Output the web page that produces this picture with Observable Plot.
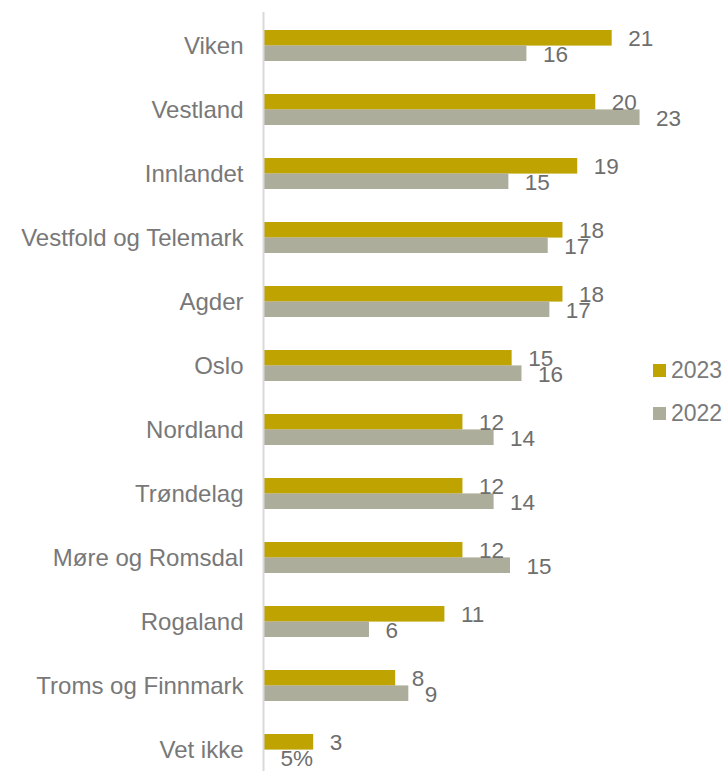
<!DOCTYPE html>
<html>
<head>
<meta charset="utf-8">
<script src="https://cdn.jsdelivr.net/npm/d3@7"></script>
<script src="https://cdn.jsdelivr.net/npm/@observablehq/plot@0.6"></script>
<style>
  body { margin: 0; background: #fff; font-family: "Liberation Sans", Arial, sans-serif; }
  #wrap { position: relative; width: 728px; height: 771px; }
  .legend { position: absolute; left: 653px; font-size: 23px; line-height: 26px; color: #7a7a7a; display: flex; align-items: center; }
  .legend span.sw { display: inline-block; width: 13px; height: 13px; margin-right: 5px; }
</style>
</head>
<body>
<div id="wrap"></div>
<script>
const regions = ["Viken","Vestland","Innlandet","Vestfold og Telemark","Agder","Oslo","Nordland","Trøndelag","Møre og Romsdal","Rogaland","Troms og Finnmark","Vet ikke"];
const values2023 = [21.2, 20.2, 19.1, 18.2, 18.2, 15.1, 12.1, 12.1, 12.1, 11.0, 8.0, 3.0];
const values2022 = [16.0, 22.9, 14.9, 17.3, 17.4, 15.7, 14.0, 14.0, 15.0, 6.4, 8.8, 0];
const labels2023 = ["21","20","19","18","18","15","12","12","12","11","8","3"];
const labels2022 = ["16","23","15","17","17","16","14","14","15","6","9","5%"];
const seriesNames = ["2023","2022"];
const colors = ["#BFA300","#ADAD9C"];

const d2023 = regions.map((r, i) => ({region: r, value: values2023[i], label: labels2023[i]}));
const d2022 = regions.map((r, i) => ({region: r, value: values2022[i], label: labels2022[i]}));

const half = 64.17 * 0.48 / 2;

const chart = Plot.plot({
  width: 728,
  height: 771,
  marginLeft: 264,
  marginRight: 87,
  marginTop: 12,
  marginBottom: 0,
  style: {fontFamily: "'Liberation Sans', Arial, sans-serif", fontSize: "22px", background: "transparent"},
  x: {domain: [0, 23], range: [264, 641.2], axis: null},
  y: {domain: regions, range: [12, 782], paddingInner: 0.52, paddingOuter: 0.26, label: null},
  marks: [
    Plot.barX(d2023, {y: "region", x: "value", fill: colors[0], insetBottom: half}),
    Plot.barX(d2022.filter(d => d.value > 0), {y: "region", x: "value", fill: colors[1], insetTop: half}),
    Plot.ruleX([0], {stroke: "#d9d9d9", strokeWidth: 2, dx: -1}),
    Plot.text(d2023, {y: "region", x: "value", text: "label", textAnchor: "start", dx: 16, dy: -half / 2, fill: "#6e6e6e", fontSize: 22.5}),
    Plot.text(d2022, {y: "region", x: "value", text: "label", textAnchor: "start", dx: 16, dy: half / 2 + 1, fill: "#6e6e6e", fontSize: 22.5}),
    Plot.axisY({tickSize: 0, tickPadding: 21, fill: "#787878", fontSize: 24, label: null})
  ]
});

const wrap = document.getElementById("wrap");
wrap.appendChild(chart);

const legendTops = [357, 400];
seriesNames.forEach((name, i) => {
  const div = document.createElement("div");
  div.className = "legend";
  div.style.top = legendTops[i] + "px";
  const sw = document.createElement("span");
  sw.className = "sw";
  sw.style.background = colors[i];
  div.appendChild(sw);
  div.appendChild(document.createTextNode(name));
  wrap.appendChild(div);
});
</script>
</body>
</html>
